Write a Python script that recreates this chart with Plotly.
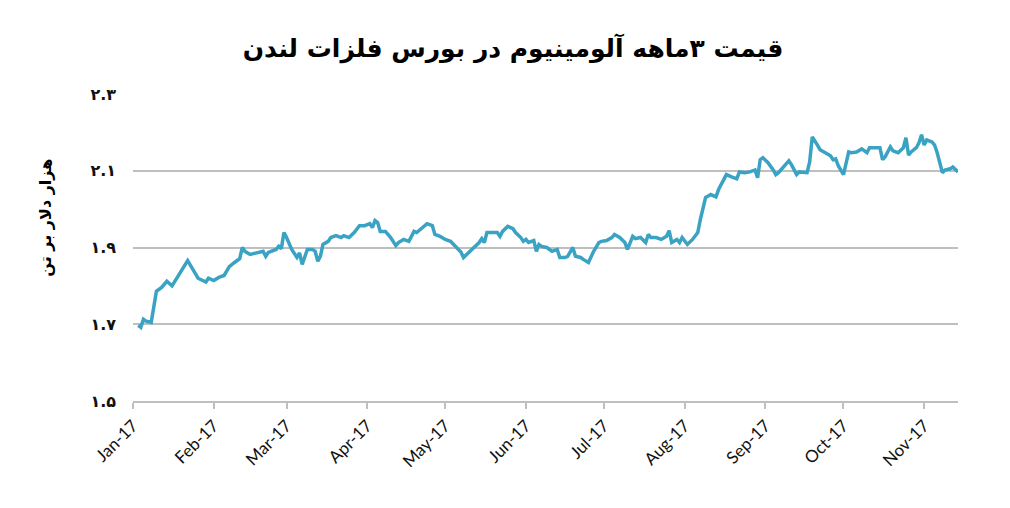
import pandas as pd
import plotly.graph_objects as go

# day offset from 1 Jan 2017 and price (thousand USD per tonne)
day_offset = [
    2, 3, 4, 5, 7, 8, 9, 11, 13, 15, 17, 19, 21, 23, 25, 28, 29, 31, 33, 35,
    37, 39, 41, 42, 43, 45, 48, 50, 51, 52, 55, 56, 57, 58, 59, 61, 63, 64, 65, 67,
    69, 70, 71, 72, 73, 75, 76, 78, 80, 81, 83, 85, 87, 89, 91, 92, 93, 94, 95, 97,
    99, 101, 102, 104, 106, 108, 109, 111, 113, 115, 116, 118, 120, 122, 124, 126, 127, 129, 131, 133,
    134, 135, 136, 138, 140, 141, 142, 144, 146, 147, 149, 150, 151, 152, 154, 155, 156, 157, 159, 161,
    163, 164, 166, 167, 169, 170, 172, 173, 175, 177, 179, 180, 182, 184, 185, 187, 189, 190, 192, 193,
    195, 197, 198, 199, 201, 203, 205, 206, 207, 209, 210, 211, 212, 213, 215, 217, 218, 219, 220, 222,
    224, 225, 227, 228, 230, 232, 233, 235, 237, 239, 240, 241, 242, 244, 246, 247, 248, 250, 252, 253,
    255, 256, 259, 260, 261, 263, 264, 266, 268, 269, 270, 271, 273, 275, 276, 278, 280, 282, 283, 285,
    287, 288, 289, 291, 292, 294, 296, 297, 298, 299, 301, 302, 303, 304, 305, 307, 308, 309, 311, 312,
    314, 315, 317,
]
price = [
    1.697, 1.692, 1.713, 1.708, 1.705, 1.747, 1.786, 1.796, 1.812, 1.800, 1.822, 1.843, 1.866, 1.843, 1.820, 1.810, 1.820, 1.814, 1.822, 1.827,
    1.850, 1.861, 1.871, 1.900, 1.890, 1.882, 1.887, 1.890, 1.877, 1.887, 1.895, 1.903, 1.897, 1.939, 1.926, 1.895, 1.874, 1.886, 1.856, 1.895,
    1.895, 1.890, 1.864, 1.877, 1.908, 1.916, 1.926, 1.931, 1.926, 1.931, 1.926, 1.939, 1.957, 1.957, 1.962, 1.952, 1.970, 1.965, 1.942, 1.942,
    1.926, 1.905, 1.913, 1.921, 1.916, 1.942, 1.939, 1.952, 1.962, 1.957, 1.934, 1.929, 1.921, 1.916, 1.903, 1.888, 1.874, 1.886, 1.900, 1.913,
    1.923, 1.913, 1.939, 1.939, 1.939, 1.929, 1.942, 1.955, 1.949, 1.939, 1.926, 1.916, 1.921, 1.913, 1.918, 1.890, 1.908, 1.903, 1.900, 1.890,
    1.895, 1.874, 1.874, 1.877, 1.900, 1.877, 1.874, 1.869, 1.861, 1.890, 1.913, 1.916, 1.918, 1.926, 1.934, 1.926, 1.913, 1.895, 1.929, 1.923,
    1.926, 1.913, 1.934, 1.926, 1.926, 1.921, 1.929, 1.944, 1.913, 1.921, 1.913, 1.926, 1.916, 1.908, 1.921, 1.939, 1.973, 2.004, 2.030, 2.038,
    2.032, 2.051, 2.079, 2.090, 2.084, 2.079, 2.097, 2.095, 2.097, 2.102, 2.082, 2.129, 2.134, 2.121, 2.102, 2.090, 2.095, 2.110, 2.126, 2.116,
    2.090, 2.097, 2.095, 2.123, 2.188, 2.167, 2.155, 2.147, 2.139, 2.129, 2.131, 2.113, 2.090, 2.149, 2.147, 2.149, 2.157, 2.147, 2.160, 2.160,
    2.160, 2.129, 2.136, 2.162, 2.152, 2.147, 2.160, 2.186, 2.141, 2.149, 2.160, 2.173, 2.194, 2.167, 2.180, 2.175, 2.167, 2.147, 2.095, 2.102,
    2.105, 2.110, 2.097,
]

y_tick_values = [1.5, 1.7, 1.9, 2.1, 2.3]
y_tick_labels = ["۱.۵", "۱.۷", "۱.۹", "۲.۱", "۲.۳"]

title_text = "قیمت ۳ماهه آلومینیوم در بورس فلزات لندن"
y_title_text = "هزار دلار بر تن"

dates = pd.Timestamp("2017-01-01") + pd.to_timedelta(day_offset, unit="D")

fig = go.Figure()
fig.add_trace(go.Scatter(
    x=dates, y=price, mode="lines",
    line=dict(color="#3aa2c2", width=3.5),
    hoverinfo="x+y",
))

fig.update_layout(
    width=1010, height=508,
    margin=dict(l=125, r=60, t=86, b=115),
    paper_bgcolor="white", plot_bgcolor="white",
    showlegend=False,
    title=dict(
        text=title_text, x=0.5, xanchor="center", y=0.921, yanchor="middle",
        font=dict(family="DejaVu Sans", size=25, color="#000000", weight="bold"),
    ),
    xaxis=dict(
        type="date",
        range=["2017-01-01", "2017-11-14"],
        dtick="M1", tick0="2017-01-01", tickformat="%b-%y",
        tickangle=-45,
        ticks="outside", ticklen=6, tickwidth=2, tickcolor="#bfbfbf",
        showline=True, linecolor="#bfbfbf", linewidth=2,
        showgrid=False, zeroline=False,
        tickfont=dict(family="Lato", size=17, color="#111111"),
    ),
    yaxis=dict(
        range=[1.5, 2.3],
        tickvals=y_tick_values, ticktext=y_tick_labels,
        showgrid=True, gridcolor="#bfbfbf", gridwidth=2,
        zeroline=False, showline=False, ticks="",
        ticklabelstandoff=16,
        tickfont=dict(family="DejaVu Sans", size=16, color="#111111", weight="bold"),
    ),
    annotations=[dict(
        text=y_title_text, xref="paper", yref="paper",
        x=-0.107, y=0.596, xanchor="center", yanchor="middle",
        textangle=-90, showarrow=False,
        font=dict(family="DejaVu Sans", size=16, color="#000000", weight="bold"),
    )],
)

fig.write_html("out.html")
